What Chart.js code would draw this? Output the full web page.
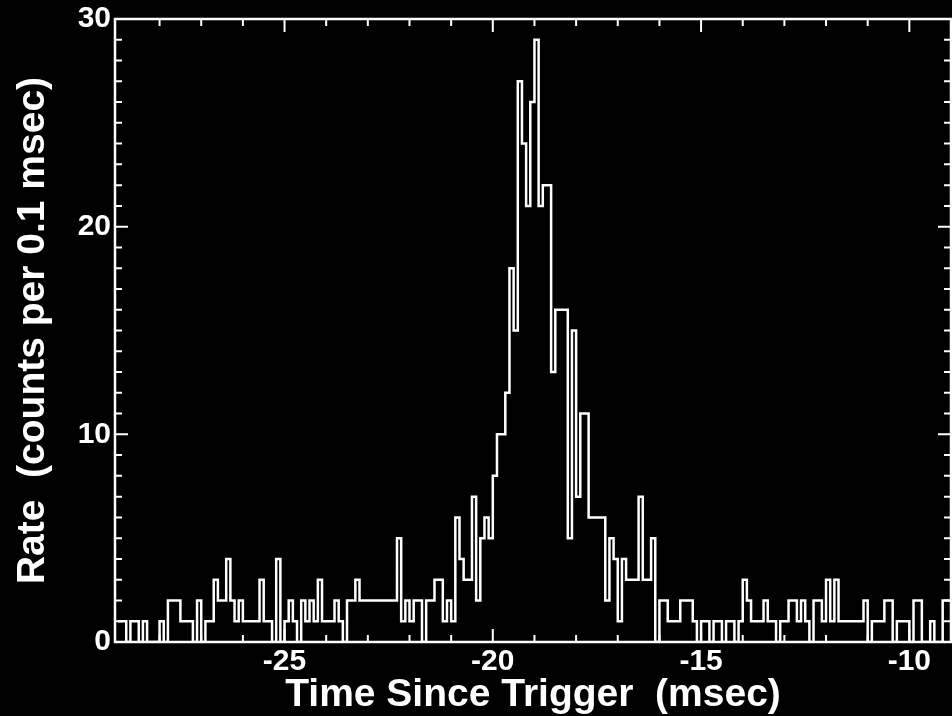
<!DOCTYPE html>
<html>
<head>
<meta charset="utf-8">
<script src="https://cdn.jsdelivr.net/npm/chart.js@4.4.1/dist/chart.umd.min.js"></script>
<style>
  html, body { margin: 0; padding: 0; background: #000; overflow: hidden; }
  #wrap { width: 956px; height: 716px; }
</style>
</head>
<body>
<div id="wrap"><canvas id="rateChart" width="956" height="716"></canvas></div>
<script>
// histogram bins: 0.1 msec wide, first bin starts at -29.0 msec
const binStart = -29.0;
const binWidth = 0.1;
const counts = [
  1, 1, 0, 1, 1, 0, 1, 0, 0, 0, 1, 0, 2, 2, 2, 1, 1, 1, 0, 2,
  0, 1, 1, 3, 2, 2, 4, 2, 1, 2, 1, 1, 1, 1, 3, 1, 1, 0, 4, 0,
  1, 2, 1, 0, 2, 1, 2, 1, 3, 1, 1, 1, 2, 1, 0, 2, 2, 3, 2, 2,
  2, 2, 2, 2, 2, 2, 2, 5, 1, 2, 1, 2, 2, 0, 2, 2, 3, 3, 1, 2,
  1, 6, 4, 3, 3, 7, 2, 5, 6, 5, 8, 10, 10, 12, 18, 15, 27, 24, 21, 26,
  29, 21, 22, 22, 13, 16, 16, 16, 5, 15, 7, 11, 11, 6, 6, 6, 6, 2, 5, 4,
  1, 4, 3, 3, 3, 7, 3, 3, 5, 0, 2, 2, 1, 1, 1, 2, 2, 2, 1, 0,
  1, 1, 0, 1, 1, 0, 1, 1, 0, 1, 3, 2, 1, 1, 1, 2, 1, 1, 0, 1,
  1, 2, 2, 1, 2, 1, 0, 2, 2, 1, 3, 1, 3, 1, 1, 1, 1, 1, 1, 2,
  0, 1, 1, 1, 2, 2, 0, 1, 1, 1, 0, 2, 2, 0, 0, 1, 0, 0, 2, 2
];
const xRange = [-29.07, -9];
const yRange = [0, 30];
const xLabelTicks = [-25, -20, -15, -10];
const yLabelTicks = [0, 10, 20, 30];

const xTitle = 'Time Since Trigger  (msec)';
const yTitle = 'Rate  (counts per 0.1 msec)';

// step points at bin left edges, plus closing edge
const points = counts.map((c, i) => ({x: binStart + i * binWidth, y: c}));
points.push({x: binStart + counts.length * binWidth, y: counts[counts.length - 1]});

const fontFamily = "'Liberation Sans', Arial, Helvetica, sans-serif";

// black background, box frame and inward tick marks (IDL style)
const frameTicks = {
    id: 'frameTicks',
    beforeDraw(chart) {
        const ctx = chart.ctx;
        ctx.save();
        ctx.fillStyle = '#000';
        ctx.fillRect(0, 0, chart.width, chart.height);
        ctx.restore();
    },
    afterDraw(chart) {
        const {ctx, chartArea: a, scales: {x, y}} = chart;
        ctx.save();
        ctx.strokeStyle = '#fff';
        ctx.lineWidth = 2;
        ctx.beginPath();
        x.ticks.forEach(t => {
            const px = x.getPixelForValue(t.value);
            const len = xLabelTicks.includes(t.value) ? 13 : 7;
            ctx.moveTo(px, a.bottom);
            ctx.lineTo(px, a.bottom - len);
            ctx.moveTo(px, a.top);
            ctx.lineTo(px, a.top + len);
        });
        y.ticks.forEach(t => {
            const py = y.getPixelForValue(t.value);
            const len = yLabelTicks.includes(t.value) ? 13 : 7;
            ctx.moveTo(a.left, py);
            ctx.lineTo(a.left + len, py);
            ctx.moveTo(a.right, py);
            ctx.lineTo(a.right - len, py);
        });
        ctx.stroke();
        ctx.lineWidth = 2.5;
        ctx.strokeRect(a.left, a.top, a.right - a.left, a.bottom - a.top);
        ctx.restore();
    }
};

new Chart(document.getElementById('rateChart'), {
    type: 'line',
    data: {
        datasets: [{
            data: points,
            stepped: 'before',
            borderColor: '#fff',
            borderWidth: 2.5,
            pointRadius: 0,
            fill: false
        }]
    },
    options: {
        responsive: false,
        animation: false,
        layout: {padding: {top: 16, right: 2, bottom: 0, left: 0}},
        plugins: {
            legend: {display: false},
            tooltip: {enabled: false}
        },
        scales: {
            x: {
                type: 'linear',
                min: xRange[0],
                max: xRange[1],
                grid: {display: false, drawTicks: false},
                border: {display: false},
                ticks: {
                    stepSize: 1,
                    autoSkip: false,
                    maxRotation: 0,
                    padding: 5,
                    color: '#fff',
                    font: {family: fontFamily, size: 30, weight: 'bold', lineHeight: 1},
                    callback: v => xLabelTicks.includes(v) ? String(v) : ''
                },
                title: {
                    display: true,
                    text: xTitle,
                    color: '#fff',
                    font: {family: fontFamily, size: 39, weight: 'bold', lineHeight: 1},
                    padding: {top: 0, bottom: 1}
                },
                afterFit(scale) { scale.height = 74; }
            },
            y: {
                min: yRange[0],
                max: yRange[1],
                grid: {display: false, drawTicks: false},
                border: {display: false},
                ticks: {
                    stepSize: 1,
                    autoSkip: false,
                    padding: 4,
                    color: '#fff',
                    font: {family: fontFamily, size: 30, weight: 'bold', lineHeight: 1},
                    callback: v => yLabelTicks.includes(v) ? String(v) : ''
                },
                title: {
                    display: true,
                    text: yTitle,
                    color: '#fff',
                    font: {family: fontFamily, size: 39, weight: 'bold', lineHeight: 1},
                    padding: {top: 14, bottom: 0}
                },
                afterFit(scale) { scale.width = 115; }
            }
        }
    },
    plugins: [frameTicks]
});
</script>
</body>
</html>
